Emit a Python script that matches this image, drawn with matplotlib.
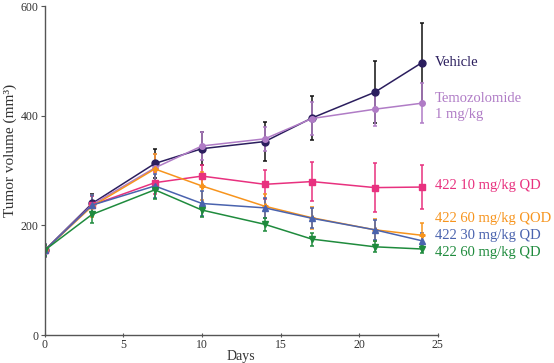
import numpy as np
import matplotlib
matplotlib.use('Agg')
import matplotlib.pyplot as plt

plt.rcParams['font.family'] = ['Liberation Serif', 'DejaVu Serif']

# Days of measurement
days = [0, 3, 7, 10, 14, 17, 21, 24]

# Mean tumor volume (mm3) and error for each group
vehicle = [155, 240, 313, 340, 353, 396, 443, 497]
vehicle_err = [12, 18, 27, 30, 35, 40, 57, 73]
temozolomide = [155, 238, 305, 345, 358, 395, 412, 423]
temozolomide_err = [12, 16, 25, 25, 22, 30, 30, 37]
qd10 = [155, 237, 278, 290, 275, 280, 269, 270]
qd10_err = [10, 16, 20, 20, 27, 35, 44, 40]
qod60 = [155, 235, 303, 272, 235, 214, 192, 182]
qod60_err = [10, 20, 28, 25, 22, 20, 20, 22]
qd30 = [155, 237, 272, 240, 232, 213, 192, 172]
qd30_err = [10, 18, 22, 22, 18, 18, 18, 14]
qd60 = [155, 220, 265, 228, 202, 175, 161, 157]
qd60_err = [10, 16, 16, 12, 12, 12, 10, 8]

groups = [
    ('Vehicle', vehicle, vehicle_err, '#2b1e5e', '#111111', 'o', 5),
    ('Temozolomide\n1 mg/kg', temozolomide, temozolomide_err, '#b07cc6', '#b07cc6', 'o', 4),
    ('422 10 mg/kg QD', qd10, qd10_err, '#e8317f', '#e8317f', 's', 5),
    ('422 60 mg/kg QOD', qod60, qod60_err, '#f7941d', '#f7941d', 'P', 3.5),
    ('422 30 mg/kg QD', qd30, qd30_err, '#4a63ae', '#4a63ae', '^', 4),
    ('422 60 mg/kg QD', qd60, qd60_err, '#1f8b3d', '#1f8b3d', 'v', 4),
]
# vertical positions of the end labels (data units)
label_y = [497, 417, 272, 213, 181, 151]

fig = plt.figure(figsize=(5.54, 3.63), dpi=100)
ax = fig.add_axes([0.081, 0.077, 0.709, 0.906])

for (name, vals, err, col, ecol, mk, ms), ly in zip(groups, label_y):
    ax.errorbar(days, vals, yerr=err, color=col, ecolor=ecol, marker=mk,
                markersize=ms, linewidth=1.1, elinewidth=1.1, capsize=1.5,
                capthick=1.1)
    ax.text(24.8, ly, name, color=col, fontsize=10.5, va='center', ha='left',
            linespacing=1.3, clip_on=False)

ax.set_xlim(0, 25)
ax.set_ylim(0, 600)
ax.set_xticks([0, 5, 10, 15, 20, 25])
ax.set_yticks([0, 200, 400, 600])
ax.spines['top'].set_visible(False)
ax.spines['right'].set_visible(False)
for s in ('left', 'bottom'):
    ax.spines[s].set_color('#555555')
    ax.spines[s].set_linewidth(1.0)
ax.tick_params(axis='y', labelsize=8.5, length=3, pad=1.5, color='#555555',
               labelcolor='#333333')
ax.tick_params(axis='x', labelsize=8.5, length=3, pad=1.5, direction='inout',
               color='#555555', labelcolor='#333333')
ax.set_xlabel('Days', fontsize=10, color='#333333', labelpad=-1)
ax.set_ylabel('Tumor volume (mm³)', fontsize=11, color='#333333')
ax.yaxis.set_label_coords(-0.07, 0.56)

fig.savefig('out.png', dpi=100)
